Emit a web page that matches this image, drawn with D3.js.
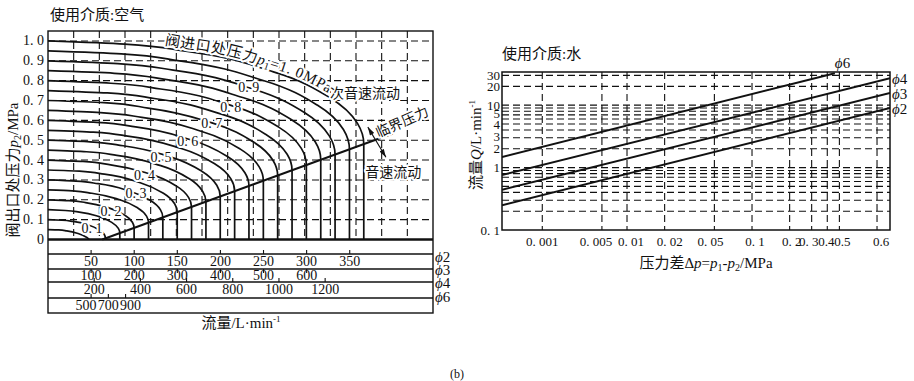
<!DOCTYPE html>
<html>
<head>
<meta charset="utf-8">
<script src="https://cdn.jsdelivr.net/npm/d3@7"></script>
<style>
body { margin: 0; background: #fff; }
svg { display: block; }
text { font-family: "Liberation Serif", "Noto Sans CJK SC", serif; fill: #111; }
.halo { stroke: #fff; stroke-width: 4; paint-order: stroke; stroke-linejoin: round; }
</style>
</head>
<body>
<div id="chart"></div>
<script>
// ---- air chart (left): outlet pressure p2 vs flow, phi2 flow units L/min ----
const p2Levels = [0.1, 0.2, 0.3, 0.4, 0.5, 0.6, 0.7, 0.8, 0.9, 1.0];
const p2TickValues = [0, 0.1, 0.2, 0.3, 0.4, 0.5, 0.6, 0.7, 0.8, 0.9, 1.0];

// one curve per inlet pressure p1 (0.05 ... 1.0 MPa), points [flow, p2]
const airCurves = [
  [[0, 0.05], [12.2, 0.048], [21.8, 0.043], [35.7, 0.029], [44.7, 0.011], [47.8, 0]],
  [[0, 0.10], [16.2, 0.097], [29.0, 0.091], [47.6, 0.072], [59.5, 0.048], [65.3, 0.025], [66.6, 0.006], [66.6, 0]],
  [[0, 0.15], [20.2, 0.146], [36.3, 0.138], [59.4, 0.115], [74.3, 0.085], [81.6, 0.056], [83.3, 0.032], [83.3, 0]],
  [[0, 0.20], [24.3, 0.196], [43.6, 0.186], [71.3, 0.158], [89.2, 0.122], [97.9, 0.087], [99.9, 0.058], [99.9, 0]],
  [[0, 0.25], [28.3, 0.245], [50.8, 0.233], [83.3, 0.200], [104.1, 0.159], [114.3, 0.118], [116.6, 0.085], [116.6, 0]],
  [[0, 0.30], [32.4, 0.294], [58.1, 0.281], [95.1, 0.243], [118.9, 0.196], [130.5, 0.149], [133.2, 0.111], [133.2, 0]],
  [[0, 0.35], [36.4, 0.344], [65.4, 0.329], [107.0, 0.286], [133.9, 0.233], [146.9, 0.180], [149.9, 0.138], [149.9, 0]],
  [[0, 0.40], [40.5, 0.393], [72.6, 0.376], [118.9, 0.329], [148.7, 0.270], [163.2, 0.211], [166.5, 0.164], [166.5, 0]],
  [[0, 0.45], [44.5, 0.442], [79.9, 0.424], [130.8, 0.372], [163.6, 0.307], [179.5, 0.242], [183.2, 0.190], [183.2, 0]],
  [[0, 0.50], [48.6, 0.492], [87.1, 0.472], [142.7, 0.415], [178.4, 0.344], [195.8, 0.273], [199.8, 0.217], [199.8, 0]],
  [[0, 0.55], [52.6, 0.541], [94.4, 0.519], [154.6, 0.458], [193.3, 0.381], [212.2, 0.305], [216.5, 0.243], [216.5, 0]],
  [[0, 0.60], [56.6, 0.590], [101.6, 0.567], [166.4, 0.501], [208.2, 0.418], [228.4, 0.336], [233.1, 0.270], [233.1, 0]],
  [[0, 0.65], [60.7, 0.639], [108.9, 0.615], [178.4, 0.544], [223.1, 0.455], [244.8, 0.367], [249.8, 0.296], [249.8, 0]],
  [[0, 0.70], [64.7, 0.689], [116.2, 0.662], [190.2, 0.587], [237.9, 0.492], [261.1, 0.398], [266.4, 0.322], [266.4, 0]],
  [[0, 0.75], [68.8, 0.738], [123.4, 0.710], [202.1, 0.630], [252.8, 0.529], [277.4, 0.429], [283.1, 0.349], [283.1, 0]],
  [[0, 0.80], [72.8, 0.787], [130.7, 0.758], [214.0, 0.673], [267.6, 0.566], [293.7, 0.460], [299.7, 0.375], [299.7, 0]],
  [[0, 0.85], [76.9, 0.837], [137.9, 0.805], [225.9, 0.715], [282.5, 0.603], [310.1, 0.491], [316.4, 0.402], [316.4, 0]],
  [[0, 0.90], [80.9, 0.886], [145.2, 0.853], [237.8, 0.758], [297.4, 0.640], [326.3, 0.522], [333.0, 0.428], [333.0, 0]],
  [[0, 0.95], [85.0, 0.935], [152.5, 0.900], [249.7, 0.801], [312.3, 0.677], [342.7, 0.554], [349.7, 0.454], [349.7, 0]],
  [[0, 1.00], [89.0, 0.984], [159.7, 0.948], [261.5, 0.844], [327.1, 0.714], [359.0, 0.585], [366.3, 0.481], [366.3, 0]]
];
const criticalLine = [[63, 0], [400, 0.534]];
const criticalArrow = [[371, 0.566], [392, 0.414]];

const curveLabelText = ["0. 1", "0. 2", "0. 3", "0. 4", "0. 5", "0. 6", "0. 7", "0. 8", "0. 9"];
const curveLabelFlow = [51, 73, 102, 112, 131, 162, 190, 212, 233];
const curveLabelP2 = [0.056, 0.141, 0.232, 0.323, 0.414, 0.495, 0.585, 0.667, 0.763];

// flow scales of the four bore sizes (full scale, then ticks)
const pipeNames = ["2", "3", "4", "6"];
const pipeFullScale = [446.6, 893, 1667, 4466];
const phi2Ticks = [50, 100, 150, 200, 250, 300, 350];
const phi3Ticks = [100, 200, 300, 400, 500, 600];
const phi4Ticks = [200, 400, 600, 800, 1000, 1200];
const phi6Ticks = [500, 700, 900];

// ---- water chart (right): flow Q vs pressure drop, log-log ----
const dpTickAt = [0.0021, 0.0063, 0.01, 0.02, 0.05, 0.1, 0.2, 0.3, 0.4, 0.5, 1.0];
const dpTickLabels = ["0. 001", "0. 005", "0. 01", "0. 02", "0. 05", "0. 1", "0. 2", "0. 3", "0.4", "0.5", "0.6"];
const qGrid = [0.2, 0.3, 0.4, 0.5, 0.6, 0.7, 0.8, 0.9, 1, 2, 3, 4, 5, 6, 7, 8, 9, 10, 20, 30];
const qTickValues = [0.1, 1, 2, 3, 4, 5, 10, 20, 30];
const qTickLabels = ["0. 1", "1", "2", "3", "4", "5", "10", "20", "30"];
const waterSizes = ["6", "4", "3", "2"];
const waterPhi6 = [[0.001, 1.48], [0.46, 32.5]];
const waterPhi4 = [[0.001, 0.76], [1.27, 27]];
const waterPhi3 = [[0.001, 0.44], [1.27, 15.7]];
const waterPhi2 = [[0.001, 0.25], [1.27, 9.0]];

const width = 914, height = 381;
const svg = d3.select("#chart").append("svg")
  .attr("width", width)
  .attr("height", height);

const defs = svg.append("defs");
defs.append("marker")
  .attr("id", "arrow")
  .attr("viewBox", "0 0 10 6")
  .attr("refX", 10).attr("refY", 3)
  .attr("markerWidth", 9).attr("markerHeight", 5)
  .attr("markerUnits", "userSpaceOnUse")
  .attr("orient", "auto-start-reverse")
  .append("path").attr("d", "M0,0L10,3L0,6Z").attr("fill", "#111");

// ================= left chart =================
const L = { left: 48, right: 433, top: 31, zero: 239.5, bottom: 313 };
const bandY = [254, 269, 282, 298];
const flowX = d3.scaleLinear().domain([0, pipeFullScale[0]]).range([L.left, L.right]);
const p2Y = d3.scaleLinear().domain([0, 1.05]).range([L.zero, L.top]);

const gL = svg.append("g");

gL.append("text").attr("x", 50).attr("y", 20).attr("font-size", 15).text("使用介质:空气");

// grid
const colEdges = d3.range(1, 15).map(i => pipeFullScale[0] * i / 15);
gL.append("g").selectAll("line").data(colEdges).join("line")
  .attr("x1", d => flowX(d)).attr("x2", d => flowX(d))
  .attr("y1", L.top).attr("y2", L.zero)
  .attr("stroke", "#111").attr("stroke-width", 1.1).attr("stroke-dasharray", "7,4");
gL.append("g").selectAll("line").data(p2Levels).join("line")
  .attr("x1", L.left).attr("x2", L.right)
  .attr("y1", d => p2Y(d)).attr("y2", d => p2Y(d))
  .attr("stroke", "#111").attr("stroke-width", 1.1).attr("stroke-dasharray", "7,4");

// curves
const airLine = d3.line()
  .x(d => flowX(d[0]))
  .y(d => p2Y(d[1]))
  .curve(d3.curveMonotoneY);
gL.append("g").selectAll("path").data(airCurves).join("path")
  .attr("id", (d, i) => "aircurve" + i)
  .attr("d", airLine)
  .attr("fill", "none").attr("stroke", "#111").attr("stroke-width", 1.7);

gL.append("path")
  .attr("d", d3.line().x(d => flowX(d[0])).y(d => p2Y(d[1]))(criticalLine))
  .attr("fill", "none").attr("stroke", "#111").attr("stroke-width", 2);
gL.append("path")
  .attr("d", d3.line().x(d => flowX(d[0])).y(d => p2Y(d[1]))(criticalArrow))
  .attr("fill", "none").attr("stroke", "#111").attr("stroke-width", 1.1)
  .attr("marker-start", "url(#arrow)").attr("marker-end", "url(#arrow)");

// curve labels
gL.append("g").selectAll("text").data(curveLabelText).join("text")
  .attr("class", "halo")
  .attr("x", (d, i) => flowX(curveLabelFlow[i]))
  .attr("y", (d, i) => p2Y(curveLabelP2[i]))
  .attr("text-anchor", "middle").attr("dominant-baseline", "central")
  .attr("font-size", 14)
  .text(d => d);

const topLabel = gL.append("text").attr("class", "halo").attr("font-size", 15)
  .attr("letter-spacing", 0.6).attr("dy", -3)
  .append("textPath").attr("href", "#aircurve19").attr("startOffset", 116);
topLabel.append("tspan").text("阀进口处压力");
topLabel.append("tspan").attr("font-style", "italic").text("p");
topLabel.append("tspan").attr("font-size", 10).attr("dy", 3).text("1");
topLabel.append("tspan").attr("dy", -3).text("=1. 0MPa");

gL.append("text").attr("class", "halo").attr("font-size", 14)
  .attr("x", flowX(327)).attr("y", p2Y(0.712)).text("次音速流动");
gL.append("text").attr("class", "halo").attr("font-size", 14)
  .attr("x", flowX(368)).attr("y", p2Y(0.315)).text("音速流动");
gL.append("text").attr("class", "halo").attr("font-size", 14)
  .attr("text-anchor", "middle").attr("dominant-baseline", "central")
  .attr("transform", `translate(${flowX(411)},${p2Y(0.59)}) rotate(-24)`)
  .text("临界压力");

// y tick labels
gL.append("g").selectAll("text").data(p2TickValues).join("text")
  .attr("x", 44).attr("y", d => p2Y(d))
  .attr("text-anchor", "end").attr("dominant-baseline", "central")
  .attr("font-size", 14)
  .text(d => d === 0 ? "0" : d3.format(".1f")(d).replace(".", ". "));

const yTitle = gL.append("text")
  .attr("transform", `translate(18,${p2Y(0.35)}) rotate(-90)`)
  .attr("text-anchor", "middle").attr("font-size", 15);
yTitle.append("tspan").text("阀出口处压力");
yTitle.append("tspan").attr("font-style", "italic").text("p");
yTitle.append("tspan").attr("font-size", 10).attr("dy", 3).text("2");
yTitle.append("tspan").attr("dy", -3).text("/MPa");

// frame and bands
gL.append("rect")
  .attr("x", L.left).attr("y", L.top)
  .attr("width", L.right - L.left).attr("height", L.bottom - L.top)
  .attr("fill", "none").attr("stroke", "#111").attr("stroke-width", 1.4);
gL.append("line").attr("x1", L.left).attr("x2", L.right).attr("y1", L.zero).attr("y2", L.zero)
  .attr("stroke", "#111").attr("stroke-width", 2.4);
gL.append("g").selectAll("line").data(bandY).join("line")
  .attr("x1", L.left).attr("x2", L.right).attr("y1", d => d).attr("y2", d => d)
  .attr("stroke", "#111").attr("stroke-width", 1.3);

const pipeRows = [
  { ticks: phi2Ticks, tickY: 254, tickLen: -4, labelY: 266, nameY: 262, spread: 0 },
  { ticks: phi3Ticks, tickY: 269, tickLen: 4, labelY: 280, nameY: 275, spread: 0 },
  { ticks: phi4Ticks, tickY: 282, tickLen: -4, labelY: 294, nameY: 288, spread: 0 },
  { ticks: phi6Ticks, tickY: 298, tickLen: -4, labelY: 310, nameY: 302, spread: 5 }
];
pipeRows.forEach((row, i) => {
  const sx = d3.scaleLinear().domain([0, pipeFullScale[i]]).range([L.left, L.right]);
  const g = gL.append("g");
  g.selectAll("line").data(row.ticks).join("line")
    .attr("x1", d => sx(d)).attr("x2", d => sx(d))
    .attr("y1", row.tickY).attr("y2", row.tickY + row.tickLen)
    .attr("stroke", "#111").attr("stroke-width", 1.1);
  g.selectAll("text").data(row.ticks).join("text")
    .attr("x", (d, j) => sx(d) + (j - 1) * row.spread).attr("y", row.labelY)
    .attr("text-anchor", "middle").attr("font-size", 14)
    .text(d => d);
  const nm = g.append("text").attr("x", L.right + 2).attr("y", row.nameY).attr("font-size", 15);
  nm.append("tspan").attr("font-style", "italic").text("ϕ");
  nm.append("tspan").text(pipeNames[i]);
});

const xTitle = gL.append("text").attr("x", 241).attr("y", 328)
  .attr("text-anchor", "middle").attr("font-size", 15);
xTitle.append("tspan").text("流量/L·min");
xTitle.append("tspan").attr("font-size", 9).attr("dy", -6).text("-1");

// ================= right chart =================
const R = { left: 502, right: 890, top: 72, bottom: 230 };
const dpX = d3.scaleLog().domain([0.001, 1.27]).range([R.left, R.right]);
const qY = d3.scaleLog().domain([0.1, 34]).range([R.bottom, R.top]);

const gR = svg.append("g");
gR.append("text").attr("x", 502).attr("y", 59).attr("font-size", 15).text("使用介质:水");

gR.append("g").selectAll("line").data(qGrid).join("line")
  .attr("x1", R.left).attr("x2", R.right)
  .attr("y1", d => qY(d)).attr("y2", d => qY(d))
  .attr("stroke", "#111").attr("stroke-width", 1.1).attr("stroke-dasharray", "7,4");
gR.append("g").selectAll("line").data(dpTickAt).join("line")
  .attr("x1", d => dpX(d)).attr("x2", d => dpX(d))
  .attr("y1", R.top).attr("y2", R.bottom)
  .attr("stroke", "#111").attr("stroke-width", 1.1).attr("stroke-dasharray", "7,4");

defs.append("clipPath").attr("id", "rclip").append("rect")
  .attr("x", R.left).attr("y", R.top)
  .attr("width", R.right - R.left).attr("height", R.bottom - R.top);

const waterLines = [waterPhi6, waterPhi4, waterPhi3, waterPhi2];
const waterLine = d3.line().x(d => dpX(d[0])).y(d => qY(d[1]));
gR.append("g").attr("clip-path", "url(#rclip)")
  .selectAll("path").data(waterLines).join("path")
  .attr("d", waterLine)
  .attr("fill", "none").attr("stroke", "#111").attr("stroke-width", 2);

gR.append("g").selectAll("text").data(waterLines).join("text")
  .attr("x", (d, i) => dpX(d[1][0]) + (i === 0 ? 0 : 2))
  .attr("y", (d, i) => qY(d[1][1]) + (i === 0 ? -5 : 6))
  .attr("font-size", 15)
  .each(function (d, i) {
    const t = d3.select(this);
    t.append("tspan").attr("font-style", "italic").text("ϕ");
    t.append("tspan").text(waterSizes[i]);
  });

gR.append("rect")
  .attr("x", R.left).attr("y", R.top)
  .attr("width", R.right - R.left).attr("height", R.bottom - R.top)
  .attr("fill", "none").attr("stroke", "#111").attr("stroke-width", 1.5);

// crowded labels 5 and 4 are printed a little above their lines in the source
const qNudge = { 5: -10, 4: -6, 3: -1 };
gR.append("g").selectAll("text").data(qTickValues).join("text")
  .attr("x", R.left - 2).attr("y", d => qY(d) + (qNudge[d] || 0))
  .attr("text-anchor", "end").attr("dominant-baseline", "central")
  .attr("font-size", 13)
  .text((d, i) => qTickLabels[i]);

// the printed labels sit a little off their grid lines in the source
const dpLabelShift = [0, -6, 4, 5, -4, 3, 2, -3, -1, 3, 4];
gR.append("g").selectAll("text").data(dpTickAt).join("text")
  .attr("x", (d, i) => dpX(d) + dpLabelShift[i]).attr("y", 246)
  .attr("text-anchor", "middle").attr("font-size", 13)
  .text((d, i) => dpTickLabels[i]);

const qTitle = gR.append("text")
  .attr("transform", `translate(481,${qY(2.3)}) rotate(-90)`)
  .attr("text-anchor", "middle").attr("font-size", 15);
qTitle.append("tspan").text("流量");
qTitle.append("tspan").attr("font-style", "italic").text("Q");
qTitle.append("tspan").text("/L·min");
qTitle.append("tspan").attr("font-size", 9).attr("dy", -6).text("-1");

const dpTitle = gR.append("text").attr("x", 706).attr("y", 268)
  .attr("text-anchor", "middle").attr("font-size", 15);
dpTitle.append("tspan").text("压力差Δ");
dpTitle.append("tspan").attr("font-style", "italic").text("p");
dpTitle.append("tspan").text("=");
dpTitle.append("tspan").attr("font-style", "italic").text("p");
dpTitle.append("tspan").attr("font-size", 10).attr("dy", 3).text("1");
dpTitle.append("tspan").attr("dy", -3).text("-");
dpTitle.append("tspan").attr("font-style", "italic").text("p");
dpTitle.append("tspan").attr("font-size", 10).attr("dy", 3).text("2");
dpTitle.append("tspan").attr("dy", -3).text("/MPa");

svg.append("text").attr("x", 457).attr("y", 378)
  .attr("text-anchor", "middle").attr("font-size", 12).text("(b)");
</script>
</body>
</html>
